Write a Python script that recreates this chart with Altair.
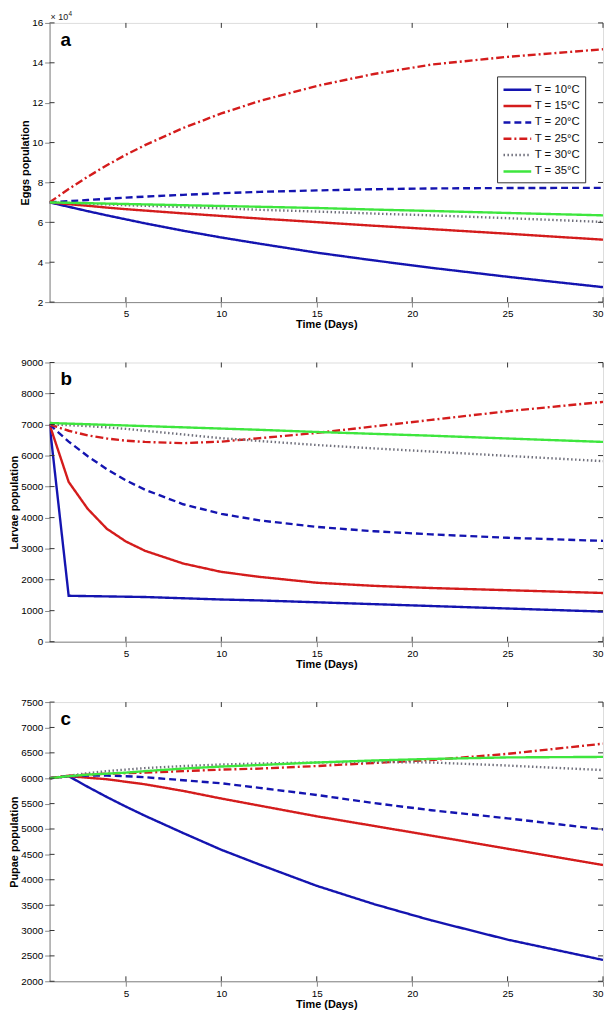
import altair as alt
import pandas as pd

# ---------------- data ----------------
days = [1, 2, 3, 4, 5, 6, 8, 10, 12, 15, 18, 21, 25, 30]
series = ["T = 10°C", "T = 15°C", "T = 20°C", "T = 25°C", "T = 30°C", "T = 35°C"]
colors = ["#1414b0", "#d41c1c", "#1414b0", "#d41c1c", "#70707c", "#3ee63e"]
dashes = [[1, 0], [1, 0], [7, 4], [8, 3, 2, 3], [1.5, 2.5], [1, 0]]

# Eggs population (x 10^4)
eggs_10 = [7.0, 6.78, 6.56, 6.35, 6.15, 5.95, 5.58, 5.24, 4.93, 4.48, 4.09, 3.72, 3.27, 2.75]
eggs_15 = [7.0, 6.91, 6.83, 6.74, 6.66, 6.59, 6.45, 6.32, 6.19, 6.01, 5.83, 5.66, 5.43, 5.13]
eggs_20 = [7.0, 7.06, 7.12, 7.18, 7.24, 7.29, 7.38, 7.46, 7.53, 7.60, 7.66, 7.70, 7.72, 7.73]
eggs_25 = [7.0, 7.67, 8.29, 8.86, 9.39, 9.87, 10.73, 11.46, 12.08, 12.84, 13.44, 13.91, 14.30, 14.68]
eggs_30 = [7.0, 6.97, 6.93, 6.90, 6.86, 6.83, 6.77, 6.70, 6.63, 6.54, 6.44, 6.35, 6.21, 6.02]
eggs_35 = [7.0, 6.98, 6.96, 6.94, 6.92, 6.90, 6.86, 6.82, 6.78, 6.72, 6.64, 6.57, 6.47, 6.35]

# Larvae population
larvae_10 = [7000, 1480, 1470, 1460, 1450, 1440, 1400, 1360, 1330, 1270, 1210, 1150, 1070, 970]
larvae_15 = [7000, 5150, 4280, 3640, 3230, 2930, 2520, 2250, 2090, 1900, 1800, 1730, 1660, 1570]
larvae_20 = [7000, 6450, 5980, 5560, 5200, 4900, 4430, 4120, 3910, 3700, 3560, 3460, 3350, 3250]
larvae_25 = [7000, 6800, 6650, 6550, 6480, 6440, 6400, 6450, 6560, 6730, 6940, 7150, 7430, 7730]
larvae_30 = [7000, 6980, 6950, 6910, 6860, 6800, 6680, 6560, 6470, 6340, 6230, 6130, 5990, 5820]
larvae_35 = [7050, 7030, 7010, 6990, 6970, 6950, 6910, 6870, 6830, 6760, 6700, 6640, 6550, 6440]

# Pupae population
pupae_10 = [6000, 6040, 5830, 5630, 5440, 5260, 4920, 4590, 4300, 3880, 3520, 3200, 2820, 2420]
pupae_15 = [6000, 6040, 6010, 5980, 5930, 5880, 5750, 5600, 5460, 5250, 5060, 4870, 4610, 4290]
pupae_20 = [6000, 6040, 6050, 6050, 6040, 6020, 5960, 5900, 5810, 5670, 5510, 5370, 5210, 4990]
pupae_25 = [6000, 6050, 6070, 6090, 6100, 6110, 6140, 6170, 6190, 6240, 6300, 6360, 6480, 6680]
pupae_30 = [6000, 6050, 6100, 6140, 6170, 6200, 6240, 6270, 6290, 6310, 6320, 6310, 6250, 6160]
pupae_35 = [6000, 6040, 6070, 6090, 6110, 6140, 6190, 6230, 6260, 6310, 6350, 6380, 6410, 6420]

x_ticks = [5, 10, 15, 20, 25, 30]
eggs_ticks = [2, 4, 6, 8, 10, 12, 14, 16]
larvae_ticks = [0, 1000, 2000, 3000, 4000, 5000, 6000, 7000, 8000, 9000]
pupae_ticks = [2000, 2500, 3000, 3500, 4000, 4500, 5000, 5500, 6000, 6500, 7000, 7500]

# ---------------- layout ----------------
W = 559
H = 282
FONT = "Liberation Sans"
FRAME = "#333333"


def long_df(cols):
    rows = []
    for name, vals in zip(series, cols):
        for d, v in zip(days, vals):
            rows.append({"day": d, "val": v, "series": name})
    return pd.DataFrame(rows)


def panel(cols, yticks, ytitle, letter, show_legend=False, exponent=False):
    df = long_df(cols)
    xscale = alt.Scale(domain=[1, 30], nice=False, zero=False)
    yscale = alt.Scale(domain=[yticks[0], yticks[-1]], nice=False, zero=False)
    xaxis = alt.Axis(values=x_ticks, title="Time (Days)", labelPadding=2,
                     titlePadding=0, grid=False, format="d")
    yaxis = alt.Axis(values=yticks, title=ytitle, labelPadding=2, titlePadding=1,
                     grid=False, format="d")
    if show_legend:
        leg = alt.Legend(
            orient="none", legendX=W - 107, legendY=54, title=None,
            symbolType="M-1,0H3", symbolSize=196, symbolStrokeWidth=2.5,
            labelFont=FONT, labelFontSize=11.5, labelColor="#111",
            strokeColor=FRAME, fillColor="white", padding=5,
            rowPadding=2.5, labelOffset=16,
        )
    else:
        leg = None
    lines = alt.Chart(df).mark_line(strokeWidth=2.4, clip=True).encode(
        x=alt.X("day:Q", scale=xscale, axis=xaxis),
        y=alt.Y("val:Q", scale=yscale, axis=yaxis),
        color=alt.Color("series:N", scale=alt.Scale(domain=series, range=colors),
                        legend=leg),
        strokeDash=alt.StrokeDash("series:N", scale=alt.Scale(domain=series, range=dashes),
                                  legend=leg),
    )
    ydf = pd.DataFrame({"val": yticks})
    xdf = pd.DataFrame({"day": x_ticks})
    left = alt.Chart(ydf).mark_rule(color=FRAME, strokeWidth=1).encode(
        y=alt.Y("val:Q", scale=yscale, axis=yaxis), x=alt.value(0), x2=alt.value(5))
    right = alt.Chart(ydf).mark_rule(color=FRAME, strokeWidth=1).encode(
        y=alt.Y("val:Q", scale=yscale, axis=yaxis), x=alt.value(W - 5), x2=alt.value(W))
    bottom = alt.Chart(xdf).mark_rule(color=FRAME, strokeWidth=1).encode(
        x=alt.X("day:Q", scale=xscale, axis=xaxis), y=alt.value(H - 5), y2=alt.value(H))
    top = alt.Chart(xdf).mark_rule(color=FRAME, strokeWidth=1).encode(
        x=alt.X("day:Q", scale=xscale, axis=xaxis), y=alt.value(0), y2=alt.value(5))
    label = alt.Chart(pd.DataFrame({"t": [letter]})).mark_text(
        font=FONT, fontSize=19, fontWeight="bold", align="left",
        baseline="alphabetic", color="#000").encode(
        text="t:N", x=alt.value(11), y=alt.value(23))
    layers = [lines, left, right, bottom, top, label]
    if exponent:
        base = alt.Chart(pd.DataFrame({"t": ["× 10"]})).mark_text(
            font=FONT, fontSize=9, align="left", baseline="alphabetic",
            color="#222").encode(text="t:N", x=alt.value(1), y=alt.value(-3))
        power = alt.Chart(pd.DataFrame({"t": ["4"]})).mark_text(
            font=FONT, fontSize=6.5, align="left", baseline="alphabetic",
            color="#222").encode(text="t:N", x=alt.value(19), y=alt.value(-7))
        layers += [base, power]
    return alt.layer(*layers).properties(width=W, height=H)


pa = panel([eggs_10, eggs_15, eggs_20, eggs_25, eggs_30, eggs_35],
           eggs_ticks, "Eggs population", "a", show_legend=True, exponent=True)
pb = panel([larvae_10, larvae_15, larvae_20, larvae_25, larvae_30, larvae_35],
           larvae_ticks, "Larvae population", "b")
pc = panel([pupae_10, pupae_15, pupae_20, pupae_25, pupae_30, pupae_35],
           pupae_ticks, "Pupae population", "c")

chart = alt.vconcat(pa, pb, pc, spacing=26).resolve_scale(
    color="independent", strokeDash="independent", x="independent", y="independent"
).resolve_legend(color="independent", strokeDash="independent").properties(
    padding={"left": 0, "top": -3, "right": 0, "bottom": 0}
).configure_view(stroke=FRAME, strokeWidth=1).configure_axis(
    domain=False, ticks=False, grid=False,
    labelFont=FONT, labelFontSize=10, labelColor="#222",
    titleFont=FONT, titleFontSize=12, titleFontWeight="bold", titleColor="#111",
).configure(background="white")

chart.save("out.html", embed_options={"renderer": "svg", "actions": False})
